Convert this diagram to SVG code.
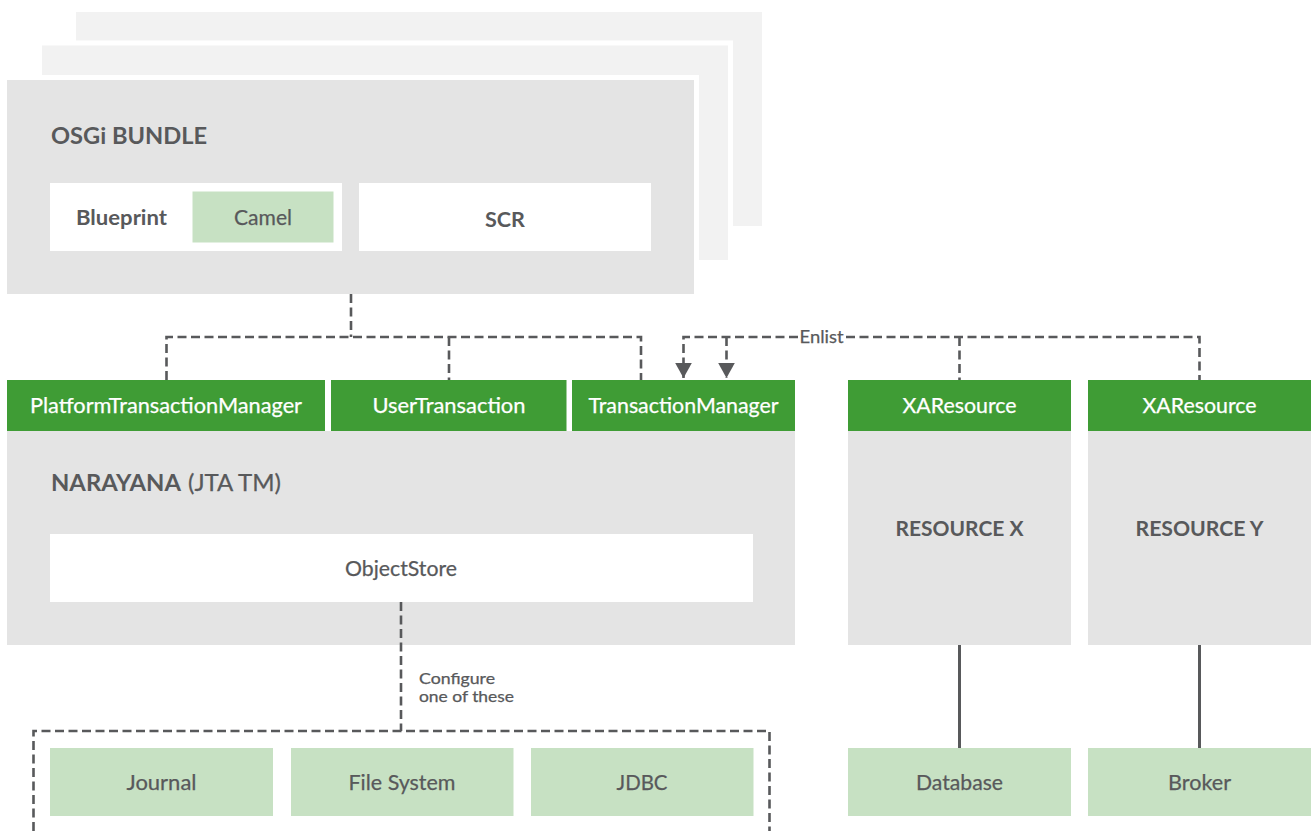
<svg xmlns="http://www.w3.org/2000/svg" width="1311" height="831" viewBox="0 0 1311 831">
<style>
text{font-family:"Lato","Liberation Sans",sans-serif;fill:#58595b;font-size:21px;text-anchor:middle;stroke:#58595b;stroke-width:.25}
.b{font-weight:700;stroke-width:0}
.w{fill:#fff;stroke:#fff}
.s{font-size:16.5px}
.c{font-size:14.5px}
.h{font-size:23px}
.start{text-anchor:start}
.grey{fill:#e4e4e4}
.pale{fill:#f2f2f2}
.white{fill:#fff}
.lg{fill:#c7e1c3}
.g{fill:#3f9c35}
.d{fill:none;stroke:#58595b;stroke-width:2.6;stroke-dasharray:9 4.5}
.l{fill:none;stroke:#58595b;stroke-width:3}
</style>
<defs>
<marker id="arrow" markerUnits="userSpaceOnUse" markerWidth="16" markerHeight="18" refX="15.500" refY="9" orient="auto"><path d="M0 .4L15.500 9L0 17.600Z" fill="#58595b"/></marker>
</defs>
<g id="stack-back"><rect class="pale" x="76" y="12" width="686" height="214"/></g>
<g id="stack-middle"><rect class="pale" x="42" y="45.500" width="686" height="214.500" stroke="#fff" stroke-width="10" paint-order="stroke"/></g>
<g id="osgi-bundle">
<rect class="grey" x="7" y="80" width="687" height="214" stroke="#fff" stroke-width="10" paint-order="stroke"/>
<text class="b start h" x="51" y="143.500" textLength="156" lengthAdjust="spacingAndGlyphs">OSGi BUNDLE</text>
</g>
<g id="blueprint"><rect class="white" x="50" y="183" width="292" height="68"/><text class="b start" x="76" y="225" textLength="91" lengthAdjust="spacingAndGlyphs">Blueprint</text></g>
<g id="camel"><rect class="lg" x="192.500" y="191.500" width="141" height="51"/><text x="263" y="225" textLength="58" lengthAdjust="spacingAndGlyphs">Camel</text></g>
<g id="scr"><rect class="white" x="359" y="183" width="292" height="68"/><text class="b" x="505" y="226.500" textLength="40" lengthAdjust="spacingAndGlyphs">SCR</text></g>
<g id="narayana">
<rect class="grey" x="7" y="431" width="788" height="214"/>
<text class="start h" x="51" y="491" stroke-width="0"><tspan class="b" textLength="130" lengthAdjust="spacingAndGlyphs">NARAYANA</tspan><tspan x="188" textLength="93" lengthAdjust="spacingAndGlyphs">(JTA TM)</tspan></text>
</g>
<g id="object-store"><rect class="white" x="50" y="534" width="703" height="68"/><text x="401" y="575.500" textLength="112" lengthAdjust="spacingAndGlyphs">ObjectStore</text></g>
<g id="platform-tm"><rect class="g" x="7" y="380" width="318" height="51"/><text class="w" x="166" y="413" textLength="272" lengthAdjust="spacingAndGlyphs">PlatformTransactionManager</text></g>
<g id="user-transaction"><rect class="g" x="331" y="380" width="235.500" height="51"/><text class="w" x="449" y="413" textLength="153" lengthAdjust="spacingAndGlyphs">UserTransaction</text></g>
<g id="transaction-manager"><rect class="g" x="572" y="380" width="223" height="51"/><text class="w" x="683.500" y="413" textLength="190" lengthAdjust="spacingAndGlyphs">TransactionManager</text></g>
<g id="resource-x">
<rect class="grey" x="848" y="431" width="223" height="214"/>
<rect class="g" x="848" y="380" width="223" height="51"/>
<text class="w" x="959.500" y="413" textLength="114" lengthAdjust="spacingAndGlyphs">XAResource</text>
<text class="b" x="959.500" y="535.500" textLength="128" lengthAdjust="spacingAndGlyphs">RESOURCE X</text>
</g>
<g id="resource-y">
<rect class="grey" x="1088" y="431" width="223" height="214"/>
<rect class="g" x="1088" y="380" width="223" height="51"/>
<text class="w" x="1199.500" y="413" textLength="114" lengthAdjust="spacingAndGlyphs">XAResource</text>
<text class="b" x="1199.500" y="535.500" textLength="128" lengthAdjust="spacingAndGlyphs">RESOURCE Y</text>
</g>
<g id="journal"><rect class="lg" x="50" y="748" width="223" height="68"/><text x="161.500" y="790" textLength="70" lengthAdjust="spacingAndGlyphs">Journal</text></g>
<g id="file-system"><rect class="lg" x="291" y="748" width="222.500" height="68"/><text x="402" y="790" textLength="107" lengthAdjust="spacingAndGlyphs">File System</text></g>
<g id="jdbc"><rect class="lg" x="531" y="748" width="222.500" height="68"/><text x="642" y="790" textLength="51" lengthAdjust="spacingAndGlyphs">JDBC</text></g>
<g id="database"><rect class="lg" x="848" y="748" width="223" height="68"/><text x="959.500" y="790" textLength="87" lengthAdjust="spacingAndGlyphs">Database</text></g>
<g id="broker"><rect class="lg" x="1088" y="748" width="223" height="68"/><text x="1199.500" y="790" textLength="63" lengthAdjust="spacingAndGlyphs">Broker</text></g>
<g id="connectors">
<path class="d" d="M351 294V337"/>
<path class="d" d="M166.500 380V337H641V380"/>
<path class="d" d="M449 337V380"/>
<path class="d" d="M798 337H683.500V378" marker-end="url(#arrow)"/>
<path class="d" d="M726.500 337V378" marker-end="url(#arrow)"/>
<path class="d" d="M846 337H1199.500V380"/>
<path class="d" d="M959.500 337V380"/>
<path class="d" d="M401 602V731"/>
<path class="d" d="M33.500 831V731H769.500V831"/>
<path class="l" d="M959.500 645V748"/>
<path class="l" d="M1199.500 645V748"/>
</g>
<g id="labels">
<text class="s" x="821.500" y="343" textLength="44" lengthAdjust="spacingAndGlyphs">Enlist</text>
<text class="c start" x="419" y="684" textLength="76" lengthAdjust="spacingAndGlyphs">Configure</text>
<text class="c start" x="419" y="702" textLength="95" lengthAdjust="spacingAndGlyphs">one of these</text>
</g>
</svg>
